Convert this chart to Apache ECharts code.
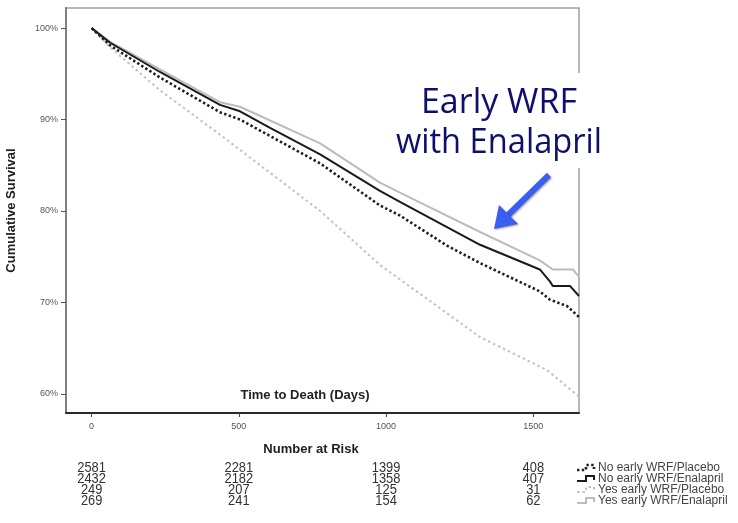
<!DOCTYPE html>
<html>
<head>
<meta charset="utf-8">
<script src="https://cdn.jsdelivr.net/npm/echarts@6/dist/echarts.min.js"></script>
<style>
  html, body { margin: 0; padding: 0; background: #ffffff; }
  #chart { width: 738px; height: 523px; }
</style>
</head>
<body>
<div id="chart"></div>
<script>
// Kaplan-Meier survival curves: [day, cumulative survival %]
const noWrfPlacebo = [
  [0, 100], [63, 98.1], [232, 94.6], [436, 90.8], [504, 90.0], [776, 85.2],
  [979, 80.6], [1047, 79.5], [1207, 76.2], [1319, 74.3], [1522, 71.2],
  [1556, 70.3], [1614, 69.6], [1655, 68.4]
];
const noWrfEnalapril = [
  [0, 100], [63, 98.4], [232, 95.2], [436, 91.6], [504, 90.9], [606, 89.1],
  [776, 86.2], [979, 82.2], [1047, 81.0], [1319, 76.3], [1522, 73.6],
  [1556, 72.3], [1566, 71.8], [1624, 71.8], [1655, 70.7]
];
const yesWrfPlacebo = [
  [0, 100], [63, 97.9], [232, 93.2], [446, 88.1], [776, 80.0], [979, 74.1],
  [1319, 66.2], [1546, 62.6], [1655, 59.7]
];
const yesWrfEnalapril = [
  [0, 100], [63, 98.5], [232, 95.5], [436, 91.9], [504, 91.4], [776, 87.4],
  [979, 83.1], [1047, 82.0], [1319, 77.7], [1522, 74.6], [1566, 73.6],
  [1634, 73.6], [1655, 72.8]
];

const seriesNames = [
  'No early WRF/Placebo',
  'No early WRF/Enalapril',
  'Yes early WRF/Placebo',
  'Yes early WRF/Enalapril'
];

// Axis ticks
const xTicks = [0, 500, 1000, 1500];
const yTicks = [60, 70, 80, 90, 100];

// Number at risk table
const riskDays = [0, 500, 1000, 1500];
const riskNoPlacebo = [2581, 2281, 1399, 408];
const riskNoEnalapril = [2432, 2182, 1358, 407];
const riskYesPlacebo = [249, 207, 125, 31];
const riskYesEnalapril = [269, 241, 154, 62];

const FONT = '"Liberation Sans", Arial, sans-serif';

const chart = echarts.init(document.getElementById('chart'), null, { renderer: 'canvas' });

const styles = [
  { color: '#1e1e1e', width: 2.6, type: [2.4, 2.4] },
  { color: '#1a1a1a', width: 2.0, type: 'solid' },
  { color: '#c2c2c2', width: 2.0, type: [2.5, 3] },
  { color: '#bcbcbc', width: 2.0, type: 'solid' }
];
const dataSets = [noWrfPlacebo, noWrfEnalapril, yesWrfPlacebo, yesWrfEnalapril];
const zOrder = [4, 3, 1, 2];

chart.setOption({
  animation: false,
  backgroundColor: '#ffffff',
  grid: {
    left: 66, right: 159, top: 8, bottom: 110,
    outerBoundsMode: 'none', containLabel: false,
    show: true, borderColor: '#a0a0a0', borderWidth: 1.5, backgroundColor: '#ffffff'
  },
  xAxis: {
    type: 'value', min: -87, max: 1655,
    axisLine: { show: true, onZero: false, lineStyle: { color: '#2a2a2a', width: 2 } },
    axisTick: { show: true, customValues: xTicks, length: 4, lineStyle: { color: '#444', width: 1 } },
    axisLabel: { customValues: xTicks, formatter: v => String(v), color: '#555', fontFamily: FONT, fontSize: 9, margin: 9 },
    splitLine: { show: false }
  },
  yAxis: {
    type: 'value', min: 57.9, max: 102.2,
    name: 'Cumulative Survival', nameLocation: 'middle', nameRotate: 90, nameGap: 48,
    nameTextStyle: { fontFamily: FONT, fontWeight: 'bold', fontSize: 13, color: '#222' },
    axisLine: { show: true, onZero: false, lineStyle: { color: '#808080', width: 2 } },
    axisTick: { show: true, customValues: yTicks, length: 5, lineStyle: { color: '#555', width: 1 } },
    axisLabel: {
      customValues: yTicks, formatter: v => v + '%',
      color: '#555', fontFamily: FONT, fontSize: 9, margin: 8
    },
    splitLine: { show: false }
  },
  series: dataSets.map((d, i) => ({
    name: seriesNames[i],
    type: 'line',
    data: d,
    symbol: 'none',
    z: zOrder[i],
    lineStyle: styles[i]
  }))
});

// Overlay: axis title, number-at-risk table, legend and the callout
function buildGraphics() {
  const g = [];
  g.push({
    type: 'text', x: 305, y: 395, z: 50,
    style: { text: 'Time to Death (Days)', font: 'bold 13px ' + FONT, fill: '#222', align: 'center', verticalAlign: 'middle' }
  });
  g.push({
    type: 'text', x: 311, y: 449, z: 50,
    style: { text: 'Number at Risk', font: 'bold 13px ' + FONT, fill: '#222', align: 'center', verticalAlign: 'middle' }
  });
  const rows = [riskNoPlacebo, riskNoEnalapril, riskYesPlacebo, riskYesEnalapril];
  const rowY = [468, 479, 490, 501];
  rows.forEach((row, r) => {
    row.forEach((n, c) => {
      const px = chart.convertToPixel({ xAxisIndex: 0 }, riskDays[c]);
      g.push({
        type: 'text', x: px, y: rowY[r], z: 50, scaleX: 0.92,
        style: { text: String(n), font: '14px ' + FONT, fill: '#333', align: 'center', verticalAlign: 'middle' }
      });
    });
    // legend sample and label
    const st = styles[r];
    const y = rowY[r];
    g.push({
      type: 'polyline', z: 50,
      shape: { points: [[577, y + 2], [586, y + 2], [586, y - 3], [594, y - 3], [594, y + 1]] },
      style: { stroke: st.color, lineWidth: st.width, lineDash: st.type === 'solid' ? null : st.type, fill: null }
    });
    g.push({
      type: 'text', x: 598, y: y, z: 50,
      style: { text: seriesNames[r], font: '12px ' + FONT, fill: '#444', align: 'left', verticalAlign: 'middle' }
    });
  });

  // Callout box with its text
  g.push({
    type: 'rect', z: 90, shape: { x: 392, y: 73, width: 222, height: 95 },
    style: { fill: '#ffffff' }
  });
  g.push({
    type: 'text', x: 499, y: 103, z: 95,
    style: { text: 'Early WRF', font: '34px "Open Sans", sans-serif', fill: '#0f0f6e', align: 'center', verticalAlign: 'middle' }
  });
  g.push({
    type: 'text', x: 499, y: 143, z: 95, scaleX: 0.96,
    style: { text: 'with Enalapril', font: '34px "Open Sans", sans-serif', fill: '#0f0f6e', align: 'center', verticalAlign: 'middle' }
  });
  // Arrow pointing at the Enalapril curve
  g.push({
    type: 'line', z: 95,
    shape: { x1: 549, y1: 175, x2: 506, y2: 217 },
    style: { stroke: '#3b5ef2', lineWidth: 6, shadowBlur: 2, shadowColor: 'rgba(0,0,0,0.35)', shadowOffsetX: 1, shadowOffsetY: 1 }
  });
  g.push({
    type: 'polygon', z: 96,
    shape: { points: [[494, 229], [499, 205], [505, 211], [512, 218], [518, 224]] },
    style: { fill: '#3b5ef2', shadowBlur: 2, shadowColor: 'rgba(0,0,0,0.35)', shadowOffsetX: 1, shadowOffsetY: 1 }
  });
  chart.setOption({ graphic: g });
}
buildGraphics();
</script>
</body>
</html>
